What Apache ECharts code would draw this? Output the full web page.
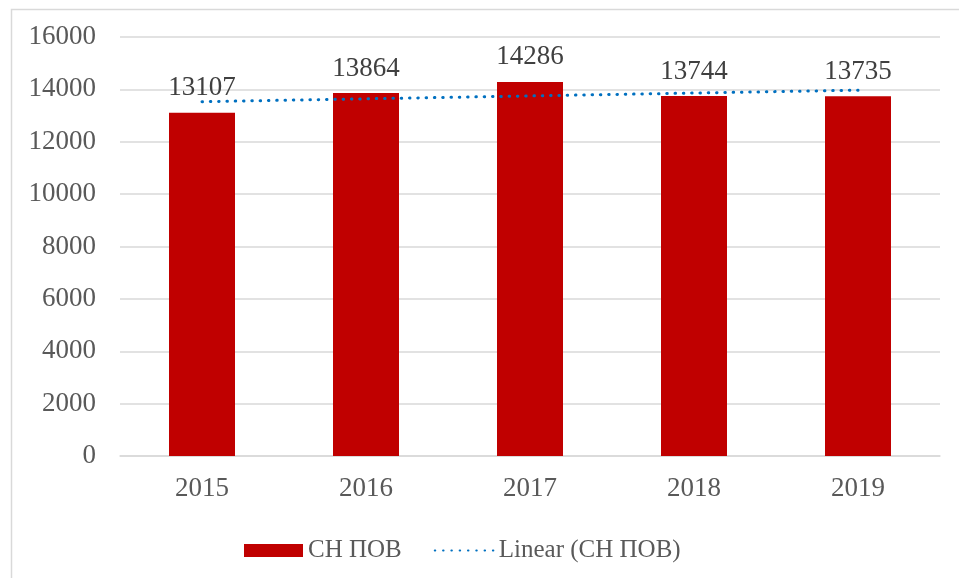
<!DOCTYPE html>
<html>
<head>
<meta charset="utf-8">
<script src="https://cdn.jsdelivr.net/npm/echarts@6/dist/echarts.min.js"></script>
<style>
  html, body { margin: 0; padding: 0; background: #fff; }
  #chart { width: 959px; height: 578px; }
</style>
</head>
<body>
<div id="chart"></div>
<script>
// данные
const years = ['2015', '2016', '2017', '2018', '2019']
const snPov = [13107, 13864, 14286, 13744, 13735]
// линия тренда (оценка по рисунку)
const trendValues = [13530, 13640, 13750, 13860, 13970]
const yTicks = [0, 2000, 4000, 6000, 8000, 10000, 12000, 14000, 16000]

const font = '"Liberation Serif", "Times New Roman", serif'
const chart = echarts.init(document.getElementById('chart'), null, { renderer: 'canvas' })

const option = {
  backgroundColor: '#ffffff',
  animation: false,
  graphic: [
    {
      type: 'rect',
      left: 9,
      top: 7,
      shape: { width: 960, height: 580 },
      style: { fill: 'none', stroke: '#d9d9d9', lineWidth: 1.5 },
      silent: true,
    },
  ],
  grid: {
    left: 120,
    right: 19,
    top: 37,
    bottom: 122,
  },
  legend: {
    left: 239,
    top: 533,
    itemGap: 32,
    selectedMode: false,
    textStyle: {
      fontFamily: font,
      fontSize: 25,
      color: '#595959',
    },
    data: [
      { name: 'СН ПОВ', icon: 'rect', itemStyle: { color: '#c00000' } },
      { name: 'Linear (СН ПОВ)', itemStyle: { opacity: 0 } },
    ],
    itemWidth: 59,
    itemHeight: 13,
  },
  xAxis: {
    type: 'category',
    data: years,
    axisLine: { show: true, lineStyle: { color: '#d9d9d9', width: 1.5 } },
    axisTick: { show: false },
    axisLabel: {
      fontFamily: font,
      fontSize: 27,
      color: '#595959',
      margin: 19,
    },
  },
  yAxis: {
    type: 'value',
    min: yTicks[0],
    max: yTicks[yTicks.length - 1],
    interval: 2000,
    axisLine: { show: false },
    axisTick: { show: false },
    splitLine: { lineStyle: { color: '#d9d9d9', width: 1.5 } },
    axisLabel: {
      fontFamily: font,
      fontSize: 27,
      color: '#595959',
      margin: 24,
      formatter: (v) => String(v),
    },
  },
  series: [
    {
      name: 'СН ПОВ',
      type: 'bar',
      data: snPov,
      barWidth: 66,
      itemStyle: { color: '#c00000' },
      label: {
        show: true,
        position: 'top',
        distance: 11,
        fontFamily: font,
        fontSize: 27,
        color: '#404040',
      },
    },
    {
      name: 'Linear (СН ПОВ)',
      type: 'line',
      data: trendValues,
      symbol: 'none',
      smooth: false,
      z: 5,
      lineStyle: {
        color: '#0070c0',
        width: 3,
        type: [0.5, 7.8],
        cap: 'round',
      },
      itemStyle: { color: '#0070c0' },
    },
  ],
}

chart.setOption(option)
</script>
</body>
</html>
